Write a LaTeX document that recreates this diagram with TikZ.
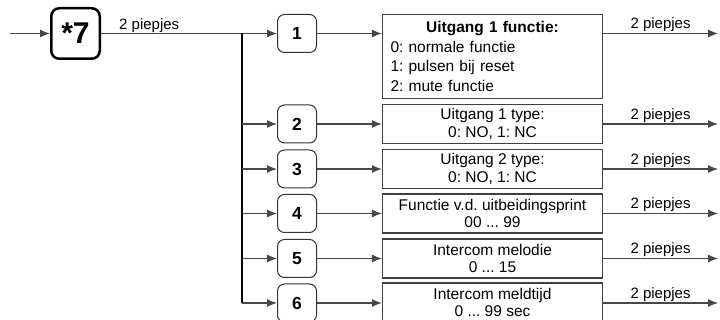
\documentclass[tikz,border=0pt]{standalone}
\usepackage{fontspec}
\setmainfont{Liberation Sans}
\usetikzlibrary{arrows.meta,calc}
\frenchspacing
\begin{document}
\begin{tikzpicture}[x=1pt,y=-1pt,
  line/.style={draw=black!72, line width=1.2pt},
  vline/.style={draw=black, line width=1.2pt},
  arr/.style={line, -{Latex[length=10pt,width=8pt]}},
  numbox/.style={draw=black!80, line width=1pt, rounded corners=7pt, minimum width=39pt, minimum height=38pt, inner sep=0pt, font=\fontsize{17.5}{20}\selectfont\bfseries},
  startbox/.style={draw=black, line width=2.5pt, rounded corners=8pt, minimum width=48.5pt, minimum height=50.5pt, inner sep=0pt, font=\fontsize{30}{34}\selectfont\bfseries},
  txtbox/.style={draw=black!75, line width=1.2pt, minimum width=220pt, minimum height=39pt, inner sep=0pt, align=center, font=\fontsize{15.5}{17.3}\selectfont},
  lbl/.style={font=\fontsize{15}{17}\selectfont, inner sep=1pt}
]
\useasboundingbox (0,0) rectangle (720,320);

% start
\coordinate (in) at (10,33.5);
\node[startbox] (s7) at (75.5,33.5) {*7};
\coordinate (j) at (242,33.5);

% number boxes
\node[numbox] (n1) at (297,33.5) {1};
\node[numbox] (n2) at (297,124) {2};
\node[numbox] (n3) at (297,169) {3};
\node[numbox] (n4) at (297,213.5) {4};
\node[numbox] (n5) at (297,258.5) {5};
\node[numbox] (n6) at (297,303) {6};

% text boxes
\node[txtbox, minimum height=84pt, inner xsep=8pt, text width=204pt, align=left, font=\fontsize{15.5}{19.5}\selectfont] (t1) at (492.5,56.5)
  {\makebox[204pt]{\bfseries Uitgang 1 functie:}\\0: normale functie\\1: pulsen bij reset\\2: mute functie};
\node[txtbox] (t2) at (492.5,124) {Uitgang 1 type:\\0: NO, 1: NC};
\node[txtbox] (t3) at (492.5,169) {Uitgang 2 type:\\0: NO, 1: NC};
\node[txtbox] (t4) at (492.5,213.5) {Functie v.d. uitbeidingsprint\\00 ... 99};
\node[txtbox] (t5) at (492.5,258.5) {Intercom melodie\\0 ... 15};
\node[txtbox] (t6) at (492.5,302.5) {Intercom meldtijd\\0 ... 99 sec};

% output ends
\coordinate (o1) at (718,33.5);
\coordinate (o2) at (718,124);
\coordinate (o3) at (718,169);
\coordinate (o4) at (718,213.5);
\coordinate (o5) at (718,258.5);
\coordinate (o6) at (718,303);

% connectors
\draw[arr] (in) -- (s7);
\draw[arr] (s7) -- (n1);
\node[lbl, anchor=base west] (l0) at (118,29.5) {2 piepjes};
\draw[vline] (j) -- (j |- n6);
\foreach \i in {2,...,6} {
  \draw[arr] (j |- n\i) -- (n\i);
}
\foreach \i in {1,...,6} {
  \draw[arr] (n\i) -- (n\i -| t\i.west);
  \draw[arr] (n\i -| t\i.east) -- (o\i) node[midway, above, lbl] {2 piepjes};
}
\end{tikzpicture}
\end{document}
